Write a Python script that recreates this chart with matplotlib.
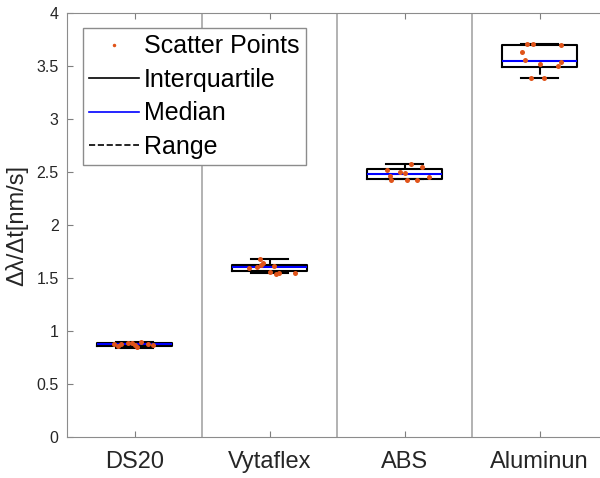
import matplotlib
matplotlib.use("Agg")
import matplotlib.pyplot as plt
from matplotlib.lines import Line2D

plt.rcParams['font.family'] = ['Liberation Sans', 'DejaVu Sans']

categories = ["DS20", "Vytaflex", "ABS", "Aluminun"]

# box statistics
q1 = [0.86, 1.565, 2.43, 3.49]
med = [0.875, 1.600, 2.48, 3.55]
q3 = [0.89, 1.625, 2.525, 3.70]
lo = [0.84, 1.55, 2.43, 3.39]
hi = [0.90, 1.68, 2.58, 3.71]

# scatter points (x offsets from category centre, values)
pts_dx = [
    [-0.15, -0.10, -0.05, 0.00, 0.05, 0.10, -0.12, 0.02, 0.14, -0.02],
    [-0.07, -0.06, -0.09, -0.15, 0.03, 0.00, 0.05, 0.07, 0.19, -0.05],
    [0.05, 0.13, -0.13, 0.00, -0.11, -0.10, 0.02, 0.09, 0.18, -0.03],
    [-0.09, -0.05, 0.16, -0.13, -0.11, 0.00, 0.16, 0.14, -0.06, 0.03],
]
pts_y = [
    [0.875, 0.88, 0.89, 0.87, 0.90, 0.88, 0.86, 0.85, 0.87, 0.89],
    [1.676, 1.62, 1.607, 1.59, 1.615, 1.56, 1.54, 1.55, 1.55, 1.64],
    [2.58, 2.55, 2.52, 2.49, 2.46, 2.42, 2.42, 2.42, 2.45, 2.50],
    [3.71, 3.71, 3.70, 3.63, 3.56, 3.52, 3.54, 3.50, 3.39, 3.39],
]

fig = plt.figure(figsize=(6.0, 4.78), dpi=100)
ax = fig.add_axes([67 / 600, 41 / 478, 540 / 600, 424 / 478])

pos = list(range(1, len(categories) + 1))
stats = []
for i in range(len(categories)):
    stats.append({"q1": q1[i], "med": med[i], "q3": q3[i],
                  "whislo": lo[i], "whishi": hi[i], "fliers": []})

ax.bxp(stats, positions=pos, widths=0.56, showfliers=False,
       boxprops=dict(color="black", linewidth=1.5),
       medianprops=dict(color="#0000ff", linewidth=1.5),
       whiskerprops=dict(color="black", linewidth=1.5, linestyle="--"),
       capprops=dict(color="black", linewidth=1.5),
       capwidths=0.28, zorder=3)

for i, p in enumerate(pos):
    xs = [p + d for d in pts_dx[i]]
    ax.plot(xs, pts_y[i], "o", color="#e0541a", markersize=3.6,
            markeredgewidth=0, zorder=4)

for x in [1.5, 2.5, 3.5]:
    ax.axvline(x, color="#a6a6a6", linewidth=1.2, zorder=1)

ax.set_xlim(0.5, 4.5)
ax.set_ylim(0, 4)
ax.set_xticks(pos)
ax.set_xticklabels(categories, fontsize=17)
ax.set_yticks([0, 0.5, 1, 1.5, 2, 2.5, 3, 3.5, 4])
ax.set_yticklabels(["0", "0.5", "1", "1.5", "2", "2.5", "3", "3.5", "4"], fontsize=11.5)
ax.tick_params(direction="in", length=4, color="#7f7f7f", top=True,
               labelcolor="#262626")
ax.tick_params(axis="x", pad=10)
ax.tick_params(axis="y", pad=6)
for s in ax.spines.values():
    s.set_color("#8c8c8c")
ax.set_ylabel("Δλ/Δt[nm/s]", fontsize=17, color="#262626", labelpad=6)

handles = [
    Line2D([], [], linestyle="none", marker=".", color="#e0541a", markersize=3),
    Line2D([], [], color="black", linewidth=1.2),
    Line2D([], [], color="#0000ff", linewidth=1.2),
    Line2D([], [], color="black", linewidth=1.2, linestyle="--"),
]
labels = ["Scatter Points", "Interquartile", "Median", "Range"]
leg = ax.legend(handles, labels, loc="upper left", bbox_to_anchor=(0.0296, 0.9646),
                borderaxespad=0, fontsize=18, handlelength=2.0, handletextpad=0.2,
                borderpad=0.25, labelspacing=0.38, numpoints=1, fancybox=False,
                framealpha=1, edgecolor="#8c8c8c")
leg.get_frame().set_linewidth(1.0)

fig.savefig("out.png", dpi=100)
